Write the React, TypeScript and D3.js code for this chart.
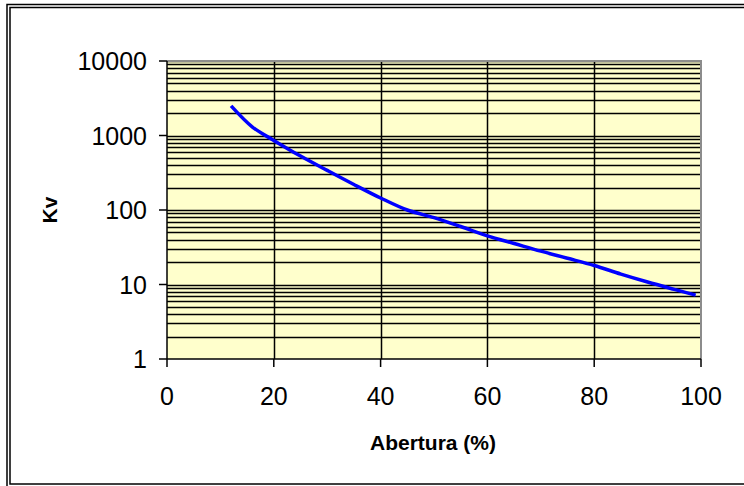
import React from "react";
import * as d3 from "d3";

const aberturaPct = [12, 16, 20, 25, 30, 35, 40, 45, 50, 55, 60, 65, 70, 75, 80, 85, 90, 95, 99];
const kvValues = [2500, 1300, 860, 530, 340, 220, 145, 100, 79, 60, 45, 35.5, 28, 22.5, 18, 13.8, 10.8, 8.6, 7.2];
const xTicks = [0, 20, 40, 60, 80, 100];
const yTicks = [1, 10, 100, 1000, 10000];

const W = 744;
const H = 486;
const L = 167, R = 701, T = 61, B = 359;

export default function App() {
  const x = d3.scaleLinear().domain([0, 100]).range([L, R]);
  const y = d3.scaleLog().domain([1, 10000]).range([B, T]);

  const minor: number[] = [];
  for (let d = 1; d < 10000; d *= 10) {
    for (let m = 1; m <= 10; m++) minor.push(d * m);
  }
  const gridY = Array.from(new Set(minor)).filter((v) => v > 1 && v <= 10000);

  const pts = aberturaPct.map((a, i) => [x(a), y(kvValues[i])] as [number, number]);
  const line = d3.line().curve(d3.curveCatmullRom.alpha(0.5))(pts) || "";

  const font = "'Liberation Sans', Arial, sans-serif";

  return (
    <svg
      width={W}
      height={H}
      style={{ position: "absolute", left: 0, top: 0, display: "block", background: "#fff" }}
    >
      {/* chart area double border */}
      <rect x={7} y={4.5} width={760} height={483} fill="none" stroke="#000" strokeWidth={1.5} />
      <rect x={10} y={7.5} width={760} height={476.5} fill="none" stroke="#000" strokeWidth={1.5} />

      {/* plot area */}
      <rect x={L} y={T} width={R - L} height={B - T} fill="#FFFFCC" />
      {gridY.map((v) => (
        <line key={"gy" + v} x1={L} x2={R} y1={Math.round(y(v)) + 0.5} y2={Math.round(y(v)) + 0.5} stroke="#000" strokeWidth={1.3} />
      ))}
      {xTicks.filter((v) => v > 0 && v < 100).map((v) => (
        <line key={"gx" + v} x1={Math.round(x(v)) + 0.5} x2={Math.round(x(v)) + 0.5} y1={T} y2={B} stroke="#000" strokeWidth={1.5} />
      ))}
      {/* plot border: gray top/right */}
      <line x1={L} x2={R + 1} y1={T} y2={T} stroke="#8c8c8c" strokeWidth={2} />
      <line x1={R} x2={R} y1={T} y2={B} stroke="#8c8c8c" strokeWidth={2} />

      {/* axes */}
      <line x1={L} x2={L} y1={T} y2={B} stroke="#000" strokeWidth={1.5} />
      <line x1={L} x2={R} y1={B} y2={B} stroke="#000" strokeWidth={1.5} />
      {yTicks.map((v) => (
        <g key={"yt" + v}>
          <line x1={L - 8} x2={L} y1={y(v)} y2={y(v)} stroke="#000" strokeWidth={1.5} />
          <text x={L - 20} y={y(v)} dy="0.36em" textAnchor="end" fontFamily={font} fontSize={25} fill="#000">
            {v}
          </text>
        </g>
      ))}
      {xTicks.map((v) => (
        <g key={"xt" + v}>
          <line x1={x(v)} x2={x(v)} y1={B} y2={B + 8} stroke="#000" strokeWidth={1.5} />
          <text x={x(v)} y={405} textAnchor="middle" fontFamily={font} fontSize={25} fill="#000">
            {v}
          </text>
        </g>
      ))}

      {/* data line */}
      <path d={line} fill="none" stroke="#0000FF" strokeWidth={3.5} />

      {/* axis titles */}
      <text
        transform={`translate(57,210) rotate(-90)`}
        textAnchor="middle"
        fontFamily={font}
        fontWeight="bold"
        fontSize={21}
        fill="#000"
      >
        Kv
      </text>
      <text x={433} y={450} textAnchor="middle" fontFamily={font} fontWeight="bold" fontSize={21} fill="#000">
        Abertura (%)
      </text>
    </svg>
  );
}
